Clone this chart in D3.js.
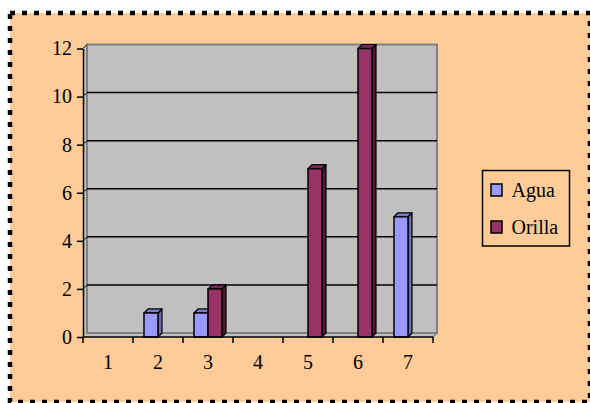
<!DOCTYPE html>
<html>
<head>
<meta charset="utf-8">
<script src="https://cdn.jsdelivr.net/npm/d3@7"></script>
</head>
<body style="margin:0;background:#ffffff">
<svg id="chart" width="590" height="403" style="display:block"></svg>
<script>
const categories = ["1", "2", "3", "4", "5", "6", "7"];
const seriesNames = ["Agua", "Orilla"];
const aguaValues = [0, 1, 1, 0, 0, 0, 5];
const orillaValues = [0, 0, 2, 0, 7, 12, 0];
const yTicks = [0, 2, 4, 6, 8, 10, 12];
const seriesColors = ["#9999FF", "#993366"];
const sideColors = ["#6B6BB3", "#4D1A33"];
const topColors = ["#7A7ACC", "#7A2952"];
const FONT = "Liberation Serif";

const svg = d3.select("#chart");

svg.append("rect")
  .attr("x", 10).attr("y", 13).attr("width", 580).attr("height", 389)
  .attr("fill", "#FFCC99")
  .attr("stroke", "#000").attr("stroke-width", 4.5)
  .attr("stroke-dasharray", "5 7");

const x = d3.scaleBand().domain(categories).range([83, 433]);
const y = d3.scaleLinear().domain([0, 12]).range([337, 48.5]);
const x1 = d3.scaleBand().domain(seriesNames).range([11, 39]);
const d = 4;

const x0 = x.range()[0], xEnd = x.range()[1];
const yBase = y(0), yTop = y(12);

svg.append("path")
  .attr("d", `M${x0},${yBase} L${x0},${yTop} L${x0 + d},${yTop - d} L${x0 + d},${yBase - d} Z`)
  .attr("fill", "#C0C0C0").attr("stroke", "none");
svg.append("path")
  .attr("d", `M${x0},${yBase} L${xEnd},${yBase} L${xEnd + d},${yBase - d} L${x0 + d},${yBase - d} Z`)
  .attr("fill", "#C0C0C0").attr("stroke", "none");
svg.append("rect")
  .attr("x", x0 + d).attr("y", yTop - d)
  .attr("width", xEnd - x0).attr("height", yBase - yTop)
  .attr("fill", "#C0C0C0").attr("stroke", "#808080").attr("stroke-width", 2);
svg.append("line")
  .attr("x1", xEnd + d).attr("x2", xEnd).attr("y1", yBase - d).attr("y2", yBase)
  .attr("stroke", "#808080").attr("stroke-width", 1.5);

const grid = svg.append("g");
yTicks.filter(t => t > 0).forEach(t => {
  if (t < 12) {
    grid.append("line")
      .attr("x1", x0 + d).attr("x2", xEnd + d)
      .attr("y1", y(t) - d).attr("y2", y(t) - d)
      .attr("stroke", "#000").attr("stroke-width", 1.5);
  }
  grid.append("line")
    .attr("x1", x0).attr("x2", x0 + d)
    .attr("y1", y(t)).attr("y2", y(t) - d)
    .attr("stroke", "#000").attr("stroke-width", 1);
});

const data = [];
categories.forEach((c, i) => {
  data.push({ cat: c, s: 0, v: aguaValues[i] });
  data.push({ cat: c, s: 1, v: orillaValues[i] });
});
const bars = svg.append("g").selectAll("g").data(data.filter(e => e.v > 0)).join("g");
bars.each(function (e) {
  const g = d3.select(this);
  const bx = x(e.cat) + x1(seriesNames[e.s]);
  const bw = x1.bandwidth();
  const ty = y(e.v), by = y(0);
  g.append("path")
    .attr("d", `M${bx + bw},${ty} L${bx + bw + d},${ty - d} L${bx + bw + d},${by - d} L${bx + bw},${by} Z`)
    .attr("fill", sideColors[e.s]).attr("stroke", "#000").attr("stroke-width", 1.2).attr("stroke-linejoin", "round");
  g.append("path")
    .attr("d", `M${bx},${ty} L${bx + d},${ty - d} L${bx + bw + d},${ty - d} L${bx + bw},${ty} Z`)
    .attr("fill", topColors[e.s]).attr("stroke", "#000").attr("stroke-width", 1.2).attr("stroke-linejoin", "round");
  g.append("rect")
    .attr("x", bx).attr("y", ty).attr("width", bw).attr("height", by - ty)
    .attr("fill", seriesColors[e.s]).attr("stroke", "#000").attr("stroke-width", 1.5);
});

// y axis
const yAxis = svg.append("g").attr("transform", `translate(${x0},0)`)
  .call(d3.axisLeft(y).tickValues(yTicks).tickSize(6).tickSizeOuter(0).tickPadding(5));
yAxis.attr("font-family", FONT).attr("font-size", 20);
yAxis.select(".domain").attr("stroke", "#000").attr("stroke-width", 1.5);
yAxis.selectAll(".tick line").attr("stroke", "#000").attr("stroke-width", 1.5);
yAxis.selectAll(".tick text").attr("font-family", FONT).attr("font-size", 20).attr("fill", "#000");

// x axis
const xAxisG = svg.append("g").attr("font-family", FONT).attr("font-size", 20);
xAxisG.append("line")
  .attr("x1", x0).attr("x2", xEnd).attr("y1", yBase).attr("y2", yBase)
  .attr("stroke", "#000").attr("stroke-width", 1.5);
const boundaries = categories.map(c => x(c)).concat([xEnd]);
xAxisG.selectAll(".xt").data(boundaries).join("line")
  .attr("x1", v => v).attr("x2", v => v).attr("y1", yBase).attr("y2", yBase + 6)
  .attr("stroke", "#000").attr("stroke-width", 1.5);
xAxisG.selectAll("text").data(categories).join("text")
  .attr("x", c => x(c) + x.bandwidth() / 2)
  .attr("y", 362).attr("dy", "0.35em")
  .attr("text-anchor", "middle")
  .attr("font-family", FONT).attr("font-size", 20).attr("fill", "#000")
  .text(c => c);

// legend
const lg = svg.append("g").attr("font-family", FONT).attr("font-size", 20);
lg.append("rect").attr("x", 482.5).attr("y", 170.5).attr("width", 87).attr("height", 75.5)
  .attr("fill", "none").attr("stroke", "#000").attr("stroke-width", 1.5);
seriesNames.forEach((n, i) => {
  const cy = 190 + i * 37;
  lg.append("rect").attr("x", 491).attr("y", cy - 6).attr("width", 11).attr("height", 12)
    .attr("fill", seriesColors[i]).attr("stroke", "#000").attr("stroke-width", 1.5);
  lg.append("text").attr("x", 511.5).attr("y", cy).attr("dy", "0.35em")
    .attr("font-family", FONT).attr("font-size", 20).attr("fill", "#000").text(n);
});
</script>
</body>
</html>
